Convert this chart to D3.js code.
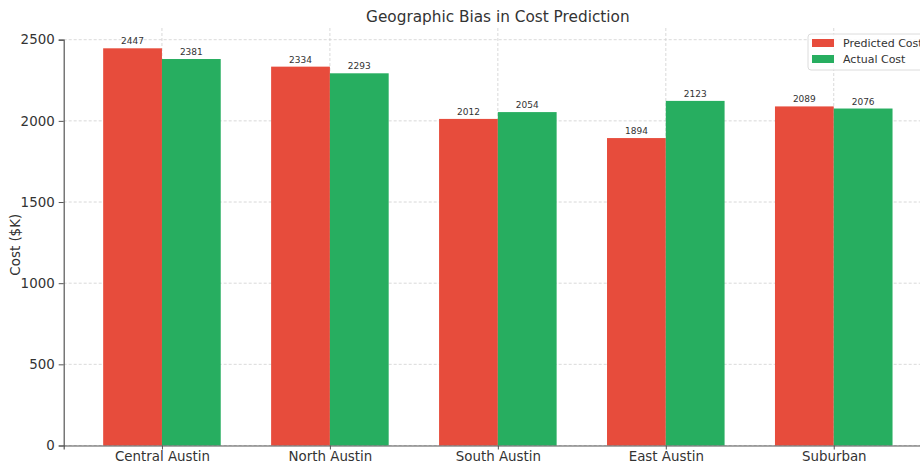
<!DOCTYPE html>
<html>
<head>
<meta charset="utf-8">
<script src="https://cdn.jsdelivr.net/npm/d3@7"></script>
<style>
  html, body { margin: 0; padding: 0; background: #fff; }
  svg { display: block; font-family: "DejaVu Sans", sans-serif; }
</style>
</head>
<body>
<svg id="chart" width="920" height="463"></svg>
<script>
const categories = ["Central Austin", "North Austin", "South Austin", "East Austin", "Suburban"];
const predicted = [2447, 2334, 2012, 1894, 2089];
const actual = [2381, 2293, 2054, 2123, 2076];
const yTicks = [0, 500, 1000, 1500, 2000, 2500];
const seriesNames = ["Predicted Cost", "Actual Cost"];
const seriesColors = ["#e74c3c", "#27ae60"];

const svg = d3.select("#chart");
const plotLeft = 63.7, plotRight = 932, plotTop = 28, plotBottom = 445.5;

// Index scale for category positions, with half-bar padding like a grouped bar plot
const barW = 0.35;
const x = d3.scaleLinear().domain([-0.585, 4.585]).range([plotLeft, plotRight]);
const y = d3.scaleLinear().domain([0, 2500]).range([plotBottom, 39.7]);

const g = svg.append("g");

// Grid lines
g.append("g").selectAll("line").data(yTicks).join("line")
  .attr("x1", plotLeft).attr("x2", plotRight)
  .attr("y1", d => y(d)).attr("y2", d => y(d))
  .attr("stroke", "#cfcfcf").attr("stroke-width", 0.8).attr("stroke-dasharray", "3,2");
g.append("g").selectAll("line").data(categories).join("line")
  .attr("x1", (d, i) => x(i)).attr("x2", (d, i) => x(i))
  .attr("y1", plotTop).attr("y2", plotBottom)
  .attr("stroke", "#cfcfcf").attr("stroke-width", 0.8).attr("stroke-dasharray", "3,2");

// Bars with value labels
const series = [predicted, actual];
series.forEach((vals, s) => {
  const off = s === 0 ? -barW / 2 : barW / 2;
  g.append("g").selectAll("rect").data(vals).join("rect")
    .attr("x", (d, i) => x(i + off - barW / 2))
    .attr("width", x(barW) - x(0))
    .attr("y", d => y(d))
    .attr("height", d => plotBottom - y(d))
    .attr("fill", seriesColors[s]);
  g.append("g").selectAll("text").data(vals).join("text")
    .attr("x", (d, i) => x(i + off))
    .attr("y", d => y(d) - 4)
    .attr("text-anchor", "middle")
    .attr("font-size", 9)
    .attr("fill", "#333")
    .text(d => d);
});

// Axes
const yAxis = d3.axisLeft(y).tickValues(yTicks).tickFormat(d3.format("d")).tickSize(5).tickPadding(4);
const ya = svg.append("g").attr("transform", `translate(${plotLeft},0)`).call(yAxis);
ya.select(".domain").attr("stroke", "#555").attr("stroke-width", 1.2);
ya.selectAll(".tick line").attr("stroke", "#555");
ya.selectAll(".tick text").attr("font-size", 13.4).attr("fill", "#333").attr("font-family", "DejaVu Sans");

const xAxis = d3.axisBottom(x).tickValues(d3.range(categories.length))
  .tickFormat(i => categories[i]).tickSize(4).tickPadding(2);
const xa = svg.append("g").attr("transform", `translate(0,${plotBottom})`).call(xAxis);
xa.select(".domain").attr("stroke", "#555").attr("stroke-width", 1.2);
xa.selectAll(".tick line").attr("stroke", "#555");
xa.selectAll(".tick text").attr("font-size", 13.4).attr("fill", "#333").attr("font-family", "DejaVu Sans");

// Title and axis label
svg.append("text").attr("x", (plotLeft + plotRight) / 2).attr("y", 22)
  .attr("text-anchor", "middle").attr("font-size", 15.3).attr("fill", "#333")
  .text("Geographic Bias in Cost Prediction");
svg.append("text").attr("transform", `translate(20,${(plotTop + plotBottom) / 2 + 8}) rotate(-90)`)
  .attr("text-anchor", "middle").attr("font-size", 13.4).attr("fill", "#333")
  .text("Cost ($K)");

// Legend
const lg = svg.append("g").attr("transform", "translate(808,34)");
lg.append("rect").attr("x", 0).attr("y", 0).attr("width", 130).attr("height", 36)
  .attr("rx", 3).attr("fill", "#fff").attr("fill-opacity", 0.8)
  .attr("stroke", "#dcdcdc");
seriesNames.forEach((name, i) => {
  lg.append("rect").attr("x", 4).attr("y", 5 + i * 16).attr("width", 22).attr("height", 8)
    .attr("fill", seriesColors[i]);
  lg.append("text").attr("x", 35).attr("y", 13 + i * 16)
    .attr("font-size", 11).attr("fill", "#333").text(name);
});
</script>
</body>
</html>
